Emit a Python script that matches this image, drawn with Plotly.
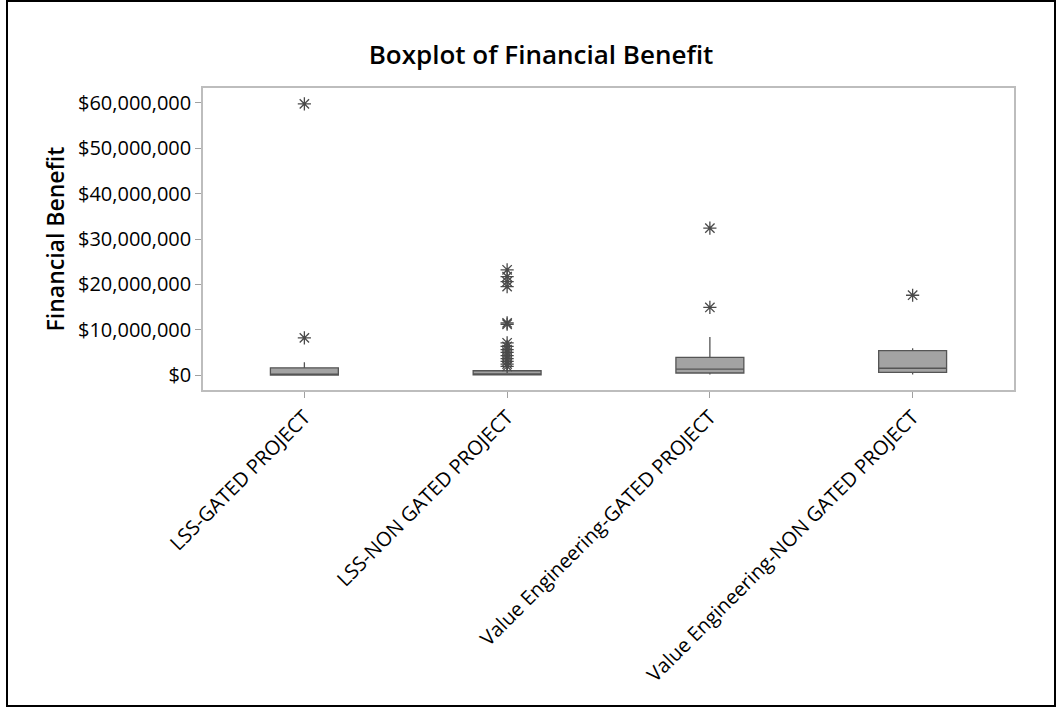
import plotly.graph_objects as go

# Project categories on the x axis
categories = [
    "LSS-GATED PROJECT",
    "LSS-NON GATED PROJECT",
    "Value Engineering-GATED PROJECT",
    "Value Engineering-NON GATED PROJECT",
]

# Box summary statistics (USD)
q1 = [0, 20000, 450000, 600000]
median = [200000, 150000, 1300000, 1500000]
q3 = [1600000, 950000, 3900000, 5400000]
lower_fence = [0, 0, 100000, 100000]
upper_fence = [2800000, 1900000, 8400000, 5900000]

# Outlying projects per category (USD)
outliers = {
    "LSS-GATED PROJECT": [8200000, 59800000],
    "LSS-NON GATED PROJECT": [
        23200000, 21700000, 20600000, 19500000, 11500000, 11200000,
        7100000, 6300000, 5600000, 5000000, 4300000, 3600000,
        3000000, 2400000, 1900000,
    ],
    "Value Engineering-GATED PROJECT": [14900000, 32400000],
    "Value Engineering-NON GATED PROJECT": [17600000],
}

y_ticks = [0, 10000000, 20000000, 30000000, 40000000, 50000000, 60000000]

FONT = "Open Sans"

fig = go.Figure()

fig.add_trace(go.Box(
    x=categories,
    q1=q1,
    median=median,
    q3=q3,
    lowerfence=lower_fence,
    upperfence=upper_fence,
    width=0.335,
    whiskerwidth=0,
    fillcolor="#a3a3a3",
    line=dict(color="#555555", width=1.3),
    boxpoints=False,
    showlegend=False,
))

out_x, out_y = [], []
for cat in categories:
    for v in outliers[cat]:
        out_x.append(cat)
        out_y.append(v)

fig.add_trace(go.Scatter(
    x=out_x,
    y=out_y,
    mode="markers",
    marker=dict(symbol="asterisk-open", size=11, color="#4a4a4a",
                line=dict(color="#4a4a4a", width=1.3)),
    showlegend=False,
))

L, R, T, B = 203, 46, 88, 318
W, H = 1060, 708
pw, ph = W - L - R, H - T - B

def fx(px):
    return (px - L) / pw

def fy(py):
    return (H - B - py) / ph

# Outer frame around the whole graphic
fig.add_shape(type="rect", xref="paper", yref="paper",
              x0=fx(7), x1=fx(1055), y0=fy(706), y1=fy(1),
              line=dict(color="black", width=2), fillcolor="rgba(0,0,0,0)")

fig.update_layout(
    width=W, height=H,
    margin=dict(l=L, r=R, t=T, b=B, autoexpand=False),
    paper_bgcolor="white",
    plot_bgcolor="white",
    font=dict(family=FONT, color="black"),
    title=dict(text="Boxplot of Financial Benefit",
               x=541 / W, xanchor="center", y=1 - 55 / H, yanchor="middle",
               font=dict(family=FONT, size=26, color="black", weight=600)),
    xaxis=dict(
        type="category",
        categoryorder="array", categoryarray=categories,
        range=[-0.5, 3.5],
        automargin=False,
        tickangle=-45,
        tickfont=dict(family=FONT, size=20, color="black"),
        showline=True, linecolor="#bdbdbd", linewidth=1.5, mirror=True,
        ticks="outside", ticklen=6, tickcolor="#a0a0a0",
        showgrid=False, zeroline=False,
    ),
    yaxis=dict(
        range=[-3300000, 63300000],
        automargin=False,
        tickvals=y_ticks,
        tickformat="$,.0f",
        tickfont=dict(family=FONT, size=20, color="black"),
        title=dict(text="Financial Benefit", standoff=7,
                   font=dict(family=FONT, size=23, color="black", weight=600)),
        showline=True, linecolor="#bdbdbd", linewidth=1.5, mirror=True,
        ticks="outside", ticklen=6, tickcolor="#a0a0a0",
        showgrid=False, zeroline=False,
    ),
)

fig.write_html("out.html")
